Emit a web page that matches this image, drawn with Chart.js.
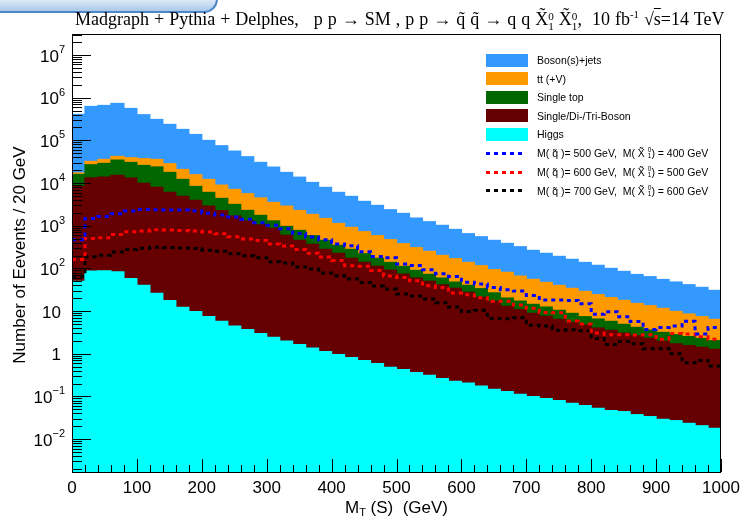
<!DOCTYPE html>
<html>
<head>
<meta charset="utf-8">
<script src="https://cdn.jsdelivr.net/npm/chart.js@4"></script>
<style>
  body { margin: 0; background: #fff; }
  #wrap { position: relative; width: 741px; height: 519px; overflow: hidden; }
  #tab { position: absolute; left: -2px; top: -4px; width: 216px; height: 13px;
         background: linear-gradient(#e6f0fa, #a9c8e9); border: 2px solid #4f88ca;
         border-radius: 0 0 14px 0; }
  #title { position: absolute; left: 75px; top: 4px; font: 18px "Liberation Serif";
           line-height: 20px; white-space: nowrap; color: #000; word-spacing: 0.5px; }
  .ss { display: inline-block; vertical-align: -0.45em; font-size: 0.62em; line-height: 0.9; }
  .ss span { display: block; }
  .ov { text-decoration: overline; }
  .row { position: absolute; left: 486px; height: 13px; display: flex; align-items: center;
         white-space: nowrap; font: 10.5px "Liberation Sans"; color: #000; }
  .box { width: 42px; height: 13px; margin-right: 9px; }
  .dash { width: 40px; height: 3px; margin-right: 11px; }
</style>
</head>
<body>
<div id="wrap">
  <canvas id="c" width="741" height="519"></canvas>
  <div id="tab"></div>
  <div id="title">Madgraph + Pythia + Delphes,&nbsp;&nbsp; p p &#8594; SM , p p &#8594; q&#771; q&#771; &#8594; q q X&#771;<span class="ss"><span>0</span><span>1</span></span> X&#771;<span class="ss"><span>0</span><span>1</span></span>,&nbsp; 10 fb<sup style="font-size:0.6em">-1</sup> &#8730;<span class="ov">s</span>=14 TeV</div>
  <div id="legend"></div>
</div>
<script>
// Stacked SM backgrounds in M_T(S), 20 GeV bins from 0 to 1000 GeV, plus three squark signals.
var binCenter = Array.from({ length: 50 }, function (_, i) { return 10 + 20 * i; });
var binLow = binCenter.map(function (c) { return c - 10; });

var higgs = [49.7, 86.5, 88.2, 83.6, 57.7, 40.0, 26.0, 17.6, 12.2, 9.69, 7.40, 5.74, 4.45, 3.67, 2.96, 2.42, 1.98, 1.63, 1.36, 1.12,
  0.952, 0.810, 0.689, 0.587, 0.480, 0.424, 0.361, 0.312, 0.261, 0.226, 0.206, 0.175, 0.147, 0.130, 0.112, 0.0989, 0.0887, 0.0797, 0.0689, 0.0609,
  0.0526, 0.0466, 0.0441, 0.0374, 0.0337, 0.0291, 0.0271, 0.0234, 0.0206, 0.0179];
var diboson = [8280, 13220, 13660, 14990, 12970, 9750, 7864, 6012, 4838, 3900, 2873, 2244, 1674, 1292, 1041, 863, 591, 451, 364, 278,
  224, 170.6, 137.5, 110.8, 90.8, 73.2, 58.9, 49.4, 41.2, 33.8, 27.2, 20.7, 16.85, 12.77, 10.69, 8.73, 7.42, 6.31, 5.37, 4.64,
  3.95, 3.48, 3.01, 2.61, 2.26, 1.92, 1.69, 1.53, 1.39, 1.25];
var singleTop = [7570, 13490, 15050, 19330, 17370, 16010, 15910, 11680, 7290, 4420, 3150, 2110, 1472, 984, 699, 431, 370, 323, 219, 174,
  121, 107.6, 82.8, 60, 46.9, 37.8, 30.3, 22.7, 17.8, 13.7, 12.6, 12.6, 9.7, 7.3, 6.3, 5.52, 4.90, 4.01, 3.39, 2.69,
  2.50, 2.21, 1.83, 1.50, 1.29, 1.21, 1.08, 0.97, 0.88, 0.76];
var ttV = [1330, 5300, 6900, 7600, 8700, 11300, 11900, 10590, 8660, 7320, 6110, 4570, 3930, 3340, 2737, 2214, 1917, 1504, 1256, 1027,
  784, 634, 503, 413, 332, 268, 216, 178, 142, 121, 98.2, 82.2, 66.6, 60.6, 48.9, 41.0, 34.6, 29.6, 25.2, 21.5,
  17.7, 14.9, 12.9, 10.95, 9.8, 8.4, 7.0, 6.0, 5.1, 4.36];
var bosonJets = [387800, 589900, 621300, 689000, 518900, 360900, 272300, 207700, 159200, 121350, 87360, 65870, 48820, 35680, 25920, 20090, 14820, 11420, 8460, 6410,
  4900, 3947, 2986, 2406, 1900, 1561, 1204, 990, 818, 650, 512, 436, 360, 304, 256, 209, 178, 151, 129, 109,
  93.8, 79.4, 67.2, 56.9, 50.6, 43.4, 38.2, 33.0, 28.5, 24.1];

var sig500 = [472, 1467, 1651, 1910, 2222, 2407, 2370, 2345, 2345, 2245, 1963, 1791, 1607, 1420, 1176, 1027, 844, 653, 541, 470,
  371, 340, 246, 191, 178, 126, 117.6, 93.3, 75.2, 65.0, 47.7, 42.9, 35.9, 31.7, 29.4, 23.3, 18.2, 18.2, 17.8, 14.9,
  8.4, 9.7, 7.4, 5.7, 3.7, 4.1, 4.5, 5.8, 2.9, 4.1];
var sig600 = [162.6, 504, 524, 626, 724, 756, 808, 790, 776, 748, 716, 650, 553, 491, 453, 371, 337, 279, 228, 184,
  154, 115.7, 113, 89.6, 66.0, 61.6, 51.5, 39.4, 35.9, 26.4, 24.2, 20.6, 17.0, 16.9, 13.8, 11.6, 9.32, 9.17, 5.83, 4.96,
  3.05, 2.80, 2.80, 2.74, 2.8, 2.2, 3.0, 2.9, 2.5, 2.2];
var sig700 = [65.6, 188, 202, 241, 279, 297, 314, 307, 302, 291, 267, 253, 221, 198, 178, 144, 134.6, 108.4, 96.3, 77.6,
  67.5, 56.2, 47.0, 38.5, 32.8, 25.0, 22.5, 19.1, 15.7, 12.4, 9.84, 10.4, 6.75, 6.64, 7.00, 4.63, 4.45, 3.58, 3.66, 3.47,
  2.29, 1.66, 1.95, 1.72, 1.31, 1.31, 1.0, 0.62, 0.70, 0.515];

var xTicks = [0, 100, 200, 300, 400, 500, 600, 700, 800, 900, 1000];
var yDecades = [-2, -1, 0, 1, 2, 3, 4, 5, 6, 7];
var X_MIN = 0, X_MAX = 1000, Y_MIN = 0.0017, Y_MAX = 3.1e7;

var backgrounds = [
  { label: "Higgs", data: higgs, color: "#00ffff" },
  { label: "Single/Di-/Tri-Boson", data: diboson, color: "#660000" },
  { label: "Single top", data: singleTop, color: "#006600" },
  { label: "tt (+V)", data: ttV, color: "#ff9900" },
  { label: "Boson(s)+jets", data: bosonJets, color: "#3399ff" }
];
var signals = [
  { label: "500", lsp: "400", data: sig500, color: "#0000ff" },
  { label: "600", lsp: "500", data: sig600, color: "#ff0000" },
  { label: "700", lsp: "600", data: sig700, color: "#000000" }
];

var datasets = backgrounds.map(function (b) {
  return { type: "bar", label: b.label, stack: "bkg", backgroundColor: b.color, borderWidth: 0,
           barPercentage: 1, categoryPercentage: 1, inflateAmount: 0.6,
           data: b.data.map(function (v, i) { return { x: binCenter[i], y: v }; }) };
});
signals.forEach(function (s) {
  var pts = s.data.map(function (v, i) { return { x: binLow[i], y: v }; });
  pts.push({ x: X_MAX, y: s.data[s.data.length - 1] });
  datasets.push({ type: "line", label: s.label, data: pts, stepped: "before", borderColor: s.color,
                  borderWidth: 3, borderDash: [4, 4], pointRadius: 0, fill: false, order: -1 });
});

function supText(ctx, base, exp, right, py, size) {
  ctx.font = size + "px 'Liberation Sans'";
  var wb = ctx.measureText(base).width;
  ctx.font = Math.round(size * 0.65) + "px 'Liberation Sans'";
  var we = exp ? ctx.measureText(exp).width : 0;
  ctx.font = size + "px 'Liberation Sans'";
  ctx.fillText(base, right - we - wb, py);
  if (exp) {
    ctx.font = Math.round(size * 0.65) + "px 'Liberation Sans'";
    ctx.fillText(exp, right - we, py - 7);
  }
}

// ROOT-style frame: ticks inside the pad, labels and titles outside
var frame = {
  id: "frame",
  afterDatasetsDraw: function (chart) {
    var ctx = chart.ctx, a = chart.chartArea, x = chart.scales.x, y = chart.scales.y;
    ctx.save();
    ctx.strokeStyle = "#000";
    ctx.lineWidth = 1;
    ctx.beginPath();
    for (var v = X_MIN; v <= X_MAX; v += 20) {
      var px = Math.round(x.getPixelForValue(v)) + 0.5;
      ctx.moveTo(px, a.bottom);
      ctx.lineTo(px, a.bottom - (v % 100 === 0 ? 13 : 7));
    }
    for (var e = -3; e <= 7; e++) {
      for (var m = 1; m <= 9; m++) {
        var tv = m * Math.pow(10, e);
        if (tv < Y_MIN || tv > Y_MAX) continue;
        var py = Math.round(y.getPixelForValue(tv)) + 0.5;
        ctx.moveTo(a.left, py);
        ctx.lineTo(a.left + (m === 1 ? 19 : 10), py);
      }
    }
    ctx.stroke();
    ctx.strokeRect(Math.round(a.left) + 0.5, Math.round(a.top) + 0.5,
                   Math.round(a.right - a.left) - 1, Math.round(a.bottom - a.top));

    ctx.fillStyle = "#000";
    ctx.textBaseline = "middle";
    ctx.textAlign = "center";
    ctx.font = "17px 'Liberation Sans'";
    xTicks.forEach(function (t) { ctx.fillText(String(t), x.getPixelForValue(t), a.bottom + 16); });

    ctx.textAlign = "left";
    yDecades.forEach(function (d) {
      var yy = y.getPixelForValue(Math.pow(10, d)) + 2;
      if (d === 0) supText(ctx, "1", "", 61, yy, 17);
      else if (d === 1) supText(ctx, "10", "", 61, yy, 17);
      else supText(ctx, "10", d < 0 ? "\u2212" + (-d) : String(d), 65, yy, 17);
    });

    // axis titles
    ctx.font = "17px 'Liberation Sans'";
    var t1 = "M", t2 = " (S)  (GeV)";
    var w1 = ctx.measureText(t1).width, w2 = ctx.measureText(t2).width;
    ctx.font = "11px 'Liberation Sans'";
    var ws = ctx.measureText("T").width;
    var x0 = (a.left + a.right) / 2 - (w1 + ws + w2) / 2, ty = a.bottom + 36;
    ctx.font = "17px 'Liberation Sans'";
    ctx.fillText(t1, x0, ty);
    ctx.fillText(t2, x0 + w1 + ws, ty);
    ctx.font = "11px 'Liberation Sans'";
    ctx.fillText("T", x0 + w1, ty + 5);

    ctx.translate(20, (a.top + a.bottom) / 2 + 2);
    ctx.rotate(-Math.PI / 2);
    ctx.textAlign = "center";
    ctx.font = "17px 'Liberation Sans'";
    ctx.fillText("Number of Eevents / 20 GeV", 0, 0);
    ctx.restore();
  }
};

new Chart(document.getElementById("c"), {
  data: { datasets: datasets },
  options: {
    responsive: false,
    animation: false,
    events: [],
    layout: { padding: { left: 72, top: 34, right: 20, bottom: 47 } },
    scales: {
      x: { type: "linear", min: X_MIN, max: X_MAX, offset: false, display: false },
      y: { type: "logarithmic", min: Y_MIN, max: Y_MAX, display: false }
    },
    plugins: { legend: { display: false }, tooltip: { enabled: false } }
  },
  plugins: [frame]
});

// legend, top to bottom as in the stack
var legend = document.getElementById("legend");
var rowY = [60, 78.5, 97, 115.7, 134, 153, 172, 190.7];
backgrounds.slice().reverse().forEach(function (b, i) {
  var r = document.createElement("div");
  r.className = "row";
  r.style.top = (rowY[i] - 6.5) + "px";
  r.innerHTML = '<div class="box" style="background:' + b.color + '"></div>' + b.label;
  legend.appendChild(r);
});
signals.forEach(function (s, i) {
  var r = document.createElement("div");
  r.className = "row";
  r.style.top = (rowY[5 + i] - 6.5) + "px";
  r.innerHTML = '<div class="dash" style="background:repeating-linear-gradient(90deg,' + s.color +
    ' 0 4px, transparent 4px 8px)"></div>M( q&#771; )= ' + s.label + ' GeV,&nbsp; M( X&#771;&nbsp;' +
    '<span class="ss"><span>0</span><span>1</span></span> ) = ' + s.lsp + ' GeV';
  legend.appendChild(r);
});
</script>
</body>
</html>
